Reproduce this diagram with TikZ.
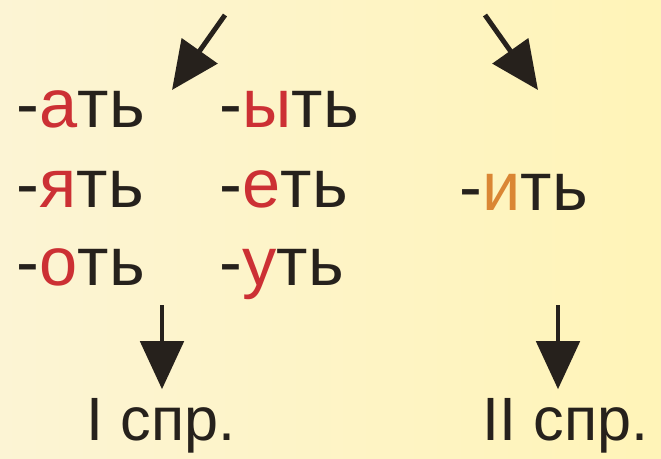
\documentclass[tikz,border=0pt]{standalone}
\usepackage{fontspec}
\setmainfont{Liberation Sans}
\usetikzlibrary{arrows.meta}
\definecolor{bgleft}{RGB}{252,244,212}
\definecolor{bgright}{RGB}{255,244,184}
\definecolor{ink}{RGB}{38,33,28}
\definecolor{sufred}{RGB}{204,48,52}
\definecolor{sufor}{RGB}{218,134,52}
\tikzset{
  suf/.style={anchor=base west,inner sep=0pt,text=ink,font=\fontsize{19.5}{23}\selectfont},
  spr/.style={anchor=base west,inner sep=0pt,text=ink,font=\fontsize{17.4}{21}\selectfont},
  arr/.style={draw=ink,line width=1.4pt,-{Triangle[length=4.8mm,width=4.3mm]}}
}
\begin{document}
\begin{tikzpicture}
\shade[left color=bgleft,right color=bgright] (0,0) rectangle (6.61,4.58);
\useasboundingbox (0,0) rectangle (6.61,4.58);

% suffixes of the first conjugation
\foreach \n/\x/\y/\v in {at/0.16/3.31/а, jat/0.16/2.51/я, ot/0.16/1.73/о,
                         yt/2.19/3.31/ы, et/2.19/2.51/е, ut/2.19/1.73/у} {
	\node[suf] (\n) at (\x,\y) {-\textcolor{sufred}{\v}ть};
}
\node[suf] (it) at (4.59,2.48) {-\textcolor{sufor}{и}ть};

\node[spr] (spr1) at (0.86,0.18) {I спр.};
\node[spr] (spr2) at (4.82,0.18) {II спр.};

\coordinate (a1) at (2.25,4.43);
\coordinate (b1) at (1.72,3.68);
\coordinate (a2) at (4.85,4.43);
\coordinate (b2) at (5.38,3.68);
\coordinate (d1) at (1.62,1.53);
\coordinate (d2) at (5.58,1.53);

\draw[arr] (a1) -- (b1);
\draw[arr] (a2) -- (b2);
\draw[arr,shorten >=0.8mm] (d1) -- (d1 |- spr1.north);
\draw[arr,shorten >=0.8mm] (d2) -- (d2 |- spr2.north);
\end{tikzpicture}
\end{document}
